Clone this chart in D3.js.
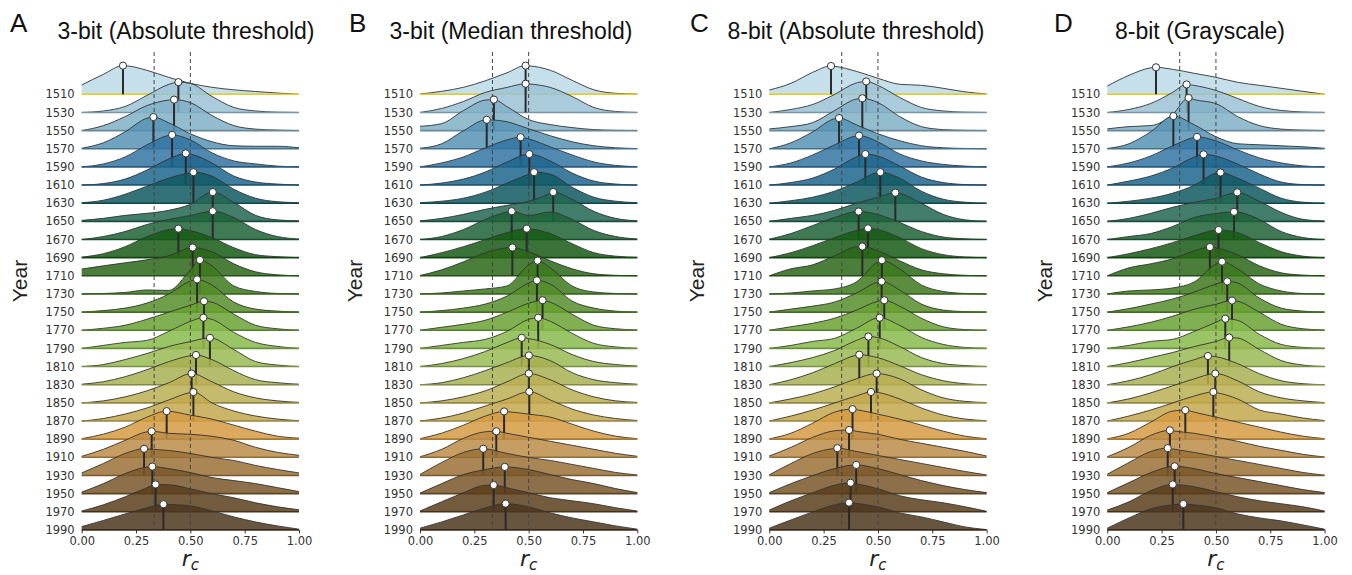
<!DOCTYPE html>
<html>
<head>
<meta charset="utf-8">
<script src="https://cdn.jsdelivr.net/npm/d3@7"></script>
<style>
  body { margin: 0; background: #fff; }
  .tick text { font-family: "DejaVu Sans", sans-serif; font-size: 11.5px; fill: #333; }
  .tick line { stroke: #333; }
</style>
</head>
<body>
<svg id="chart" width="1352" height="575"></svg>
<script>
(function () {
  'use strict';

  // ── Data ───────────────────────────────────────────────────────────────────
  const years = [1510, 1530, 1550, 1570, 1590, 1610, 1630, 1650, 1670, 1690, 1710, 1730, 1750,
                 1770, 1790, 1810, 1830, 1850, 1870, 1890, 1910, 1930, 1950, 1970, 1990];
  const grid = [0, 0.1, 0.2, 0.3, 0.4, 0.5, 0.6, 0.7, 0.8, 0.9, 1.0];
  const xTicks = [0, 0.25, 0.5, 0.75, 1.0];
  const refLines = [1 / 3, 0.5];

  const titles = ['3-bit (Absolute threshold)', '3-bit (Median threshold)',
                  '8-bit (Absolute threshold)', '8-bit (Grayscale)'];
  const letters = ['A', 'B', 'C', 'D'];

  // peak (mode) position and density for each year
  const modeA = [0.19, 0.445, 0.425, 0.33, 0.416, 0.479, 0.514, 0.603, 0.603, 0.445, 0.511, 0.544, 0.531,
                 0.563, 0.56, 0.59, 0.526, 0.506, 0.514, 0.391, 0.322, 0.287, 0.325, 0.34, 0.376];
  const peakA = [2.87, 3.03, 3.1, 3.17, 3.2, 3.17, 3.1, 2.93, 2.83, 2.9, 2.83, 3.4, 3.27,
                 2.9, 3.07, 2.87, 2.97, 2.93, 2.9, 2.8, 2.6, 2.67, 2.7, 2.73, 2.57];
  const densA = [
    [0.93, 2.0, 2.8, 2.4, 1.7, 1.1, 0.7, 0.45, 0.28, 0.13, 0],
    [0, 0.15, 0.6, 1.7, 2.8, 2.9, 1.6, 0.5, 0.15, 0.03, 0],
    [0, 0.5, 1.4, 2.5, 3.05, 2.8, 1.5, 0.5, 0.15, 0.05, 0],
    [0.05, 0.6, 1.7, 3.05, 2.6, 1.5, 0.7, 0.3, 0.25, 0.25, 0.1],
    [0, 0.3, 1.0, 2.2, 3.15, 2.7, 1.4, 0.6, 0.3, 0.08, 0],
    [0, 0.15, 0.6, 1.5, 2.6, 3.1, 2.2, 0.9, 0.3, 0.1, 0],
    [0.05, 0.3, 0.9, 1.7, 2.5, 3.05, 2.7, 1.4, 0.5, 0.15, 0.05],
    [0.1, 0.3, 0.6, 0.8, 1.1, 1.7, 2.9, 1.9, 0.6, 0.15, 0.05],
    [0, 0.3, 0.8, 1.5, 2.0, 2.4, 2.8, 2.2, 1.0, 0.3, 0.05],
    [0.05, 0.4, 1.1, 2.1, 2.8, 2.7, 2.0, 1.0, 0.3, 0.1, 0],
    [0.67, 1.0, 1.3, 1.6, 2.0, 2.7, 2.4, 1.2, 0.4, 0.1, 0],
    [0, 0.05, 0.15, 0.4, 0.35, 2.4, 2.8, 0.8, 0.25, 0.05, 0],
    [0, 0.15, 0.4, 0.9, 1.8, 3.1, 2.7, 1.0, 0.3, 0.1, 0],
    [0, 0.2, 0.5, 1.1, 1.8, 2.5, 2.8, 1.6, 0.5, 0.15, 0],
    [0, 0.3, 0.6, 0.8, 1.7, 2.7, 2.9, 1.6, 0.6, 0.2, 0],
    [0, 0.2, 0.7, 1.3, 2.0, 2.5, 2.8, 1.7, 0.5, 0.15, 0],
    [0.05, 0.3, 0.8, 1.5, 2.3, 2.9, 2.5, 1.4, 0.5, 0.2, 0.05],
    [0, 0.2, 0.6, 1.2, 2.0, 2.9, 2.1, 1.1, 0.5, 0.2, 0.05],
    [0, 0.25, 0.7, 1.3, 2.1, 2.85, 1.8, 1.0, 0.5, 0.2, 0.03],
    [0.05, 0.5, 1.2, 2.2, 2.75, 2.4, 2.0, 1.4, 0.8, 0.3, 0.1],
    [0.1, 0.8, 1.7, 2.55, 2.4, 2.3, 2.1, 1.7, 1.0, 0.5, 0.2],
    [0.25, 1.2, 2.2, 2.65, 2.5, 2.2, 1.8, 1.5, 1.0, 0.6, 0.25],
    [0.15, 1.0, 2.0, 2.65, 2.5, 2.1, 1.6, 1.3, 1.0, 0.6, 0.2],
    [0.07, 0.7, 1.5, 2.4, 2.7, 2.3, 1.8, 1.4, 0.9, 0.5, 0.2],
    [0.33, 0.95, 1.6, 2.2, 2.55, 2.4, 1.9, 1.3, 0.8, 0.4, 0.07]
  ];

  const modeB = [0.486, 0.486, 0.34, 0.307, 0.463, 0.503, 0.525, 0.613, 0.422, 0.491, 0.425, 0.541, 0.538,
                 0.564, 0.544, 0.468, 0.501, 0.501, 0.503, 0.387, 0.351, 0.291, 0.39, 0.339, 0.394];
  const peakB = [2.87, 2.87, 3.1, 2.9, 2.97, 3.1, 3.1, 2.93, 2.83, 2.9, 2.83, 3.33, 3.17,
                 3.0, 3.07, 2.87, 2.93, 2.93, 2.93, 2.77, 2.6, 2.67, 2.67, 2.67, 2.63];
  const densB = [
    [0.03, 0.3, 0.7, 1.35, 2.15, 2.85, 2.4, 1.4, 0.45, 0.1, 0.02],
    [0, 0.4, 1.1, 2.0, 2.5, 2.85, 2.5, 1.6, 0.5, 0.1, 0],
    [0.43, 0.7, 2.0, 3.05, 2.4, 1.1, 0.6, 0.3, 0.1, 0.03, 0],
    [0.05, 0.5, 1.8, 2.85, 2.7, 2.0, 1.3, 0.7, 0.3, 0.1, 0.02],
    [0, 0.4, 1.0, 1.9, 2.7, 2.8, 2.0, 1.2, 0.5, 0.15, 0.03],
    [0, 0.2, 0.6, 1.3, 2.3, 3.1, 2.4, 1.2, 0.4, 0.1, 0],
    [0.05, 0.2, 0.5, 1.1, 2.0, 2.9, 2.9, 1.6, 0.6, 0.2, 0.05],
    [0.05, 0.3, 0.7, 1.2, 1.6, 2.0, 2.8, 2.2, 1.0, 0.3, 0.05],
    [0, 0.3, 1.0, 2.0, 2.75, 2.4, 2.75, 2.0, 0.9, 0.3, 0.05],
    [0, 0.5, 1.1, 1.8, 2.5, 2.85, 2.4, 1.4, 0.5, 0.15, 0.03],
    [0.03, 0.6, 1.4, 2.3, 2.8, 2.4, 1.5, 0.7, 0.2, 0.05, 0],
    [0, 0.1, 0.3, 0.5, 0.8, 2.9, 2.6, 0.8, 0.2, 0.05, 0],
    [0, 0.15, 0.4, 0.8, 1.6, 2.9, 2.8, 1.1, 0.4, 0.1, 0],
    [0, 0.3, 0.6, 1.0, 1.8, 2.7, 2.8, 1.6, 0.5, 0.15, 0.03],
    [0, 0.3, 0.6, 0.9, 1.7, 2.9, 2.7, 1.5, 0.5, 0.15, 0],
    [0, 0.3, 0.8, 1.5, 2.4, 2.8, 2.2, 1.2, 0.5, 0.2, 0.05],
    [0, 0.2, 0.7, 1.4, 2.2, 2.9, 2.4, 1.2, 0.5, 0.2, 0.05],
    [0, 0.2, 0.6, 1.2, 2.1, 2.9, 2.3, 1.3, 0.6, 0.2, 0.05],
    [0, 0.3, 0.8, 1.5, 2.2, 2.9, 2.1, 1.2, 0.6, 0.25, 0.05],
    [0.05, 0.6, 1.4, 2.3, 2.75, 2.5, 2.2, 1.5, 0.8, 0.3, 0.05],
    [0.05, 0.8, 1.9, 2.55, 2.4, 2.0, 1.6, 1.2, 0.8, 0.4, 0.1],
    [0.1, 1.3, 2.3, 2.65, 2.2, 1.8, 1.5, 1.1, 0.7, 0.3, 0.05],
    [0.05, 1.0, 1.9, 2.4, 2.65, 2.4, 1.9, 1.4, 1.0, 0.5, 0.1],
    [0.07, 1.0, 1.9, 2.65, 2.4, 1.9, 1.4, 1.1, 0.8, 0.4, 0.07],
    [0.17, 0.8, 1.5, 2.2, 2.6, 2.3, 1.7, 1.2, 0.8, 0.4, 0.07]
  ];

  const modeC = [0.284, 0.446, 0.428, 0.321, 0.413, 0.442, 0.511, 0.58, 0.411, 0.454, 0.428, 0.518, 0.517,
                 0.529, 0.508, 0.456, 0.414, 0.494, 0.468, 0.383, 0.367, 0.313, 0.4, 0.374, 0.367];
  const peakC = [2.83, 3.1, 3.23, 3.07, 3.13, 3.1, 3.1, 2.87, 2.8, 2.93, 2.93, 3.37, 3.07,
                 3.0, 3.07, 3.0, 3.0, 2.93, 2.9, 3.0, 2.73, 2.73, 2.87, 2.9, 2.73];
  const densC = [
    [0.43, 1.1, 2.2, 2.8, 2.3, 1.6, 1.0, 0.9, 0.6, 0.25, 0.03],
    [0, 0.3, 0.8, 1.8, 2.95, 2.7, 1.5, 0.5, 0.15, 0.03, 0],
    [0.17, 0.4, 0.8, 2.0, 3.15, 2.8, 1.4, 0.4, 0.1, 0.03, 0],
    [0, 0.6, 1.7, 3.0, 2.4, 1.5, 0.8, 0.3, 0.1, 0.03, 0],
    [0, 0.4, 1.2, 2.2, 3.1, 2.5, 1.3, 0.6, 0.25, 0.08, 0],
    [0, 0.25, 0.7, 1.6, 2.8, 2.9, 1.9, 0.8, 0.25, 0.05, 0],
    [0, 0.25, 0.6, 1.2, 2.1, 3.05, 2.5, 1.2, 0.4, 0.1, 0],
    [0, 0.3, 0.6, 1.1, 1.8, 2.4, 2.8, 1.8, 0.7, 0.15, 0],
    [0.03, 0.6, 1.4, 2.2, 2.75, 2.5, 1.7, 0.8, 0.25, 0.07, 0],
    [0, 0.5, 1.2, 2.0, 2.7, 2.8, 2.0, 0.9, 0.3, 0.07, 0],
    [0, 0.7, 1.1, 2.0, 2.9, 2.5, 1.5, 0.6, 0.2, 0.05, 0],
    [0, 0.1, 0.3, 0.5, 1.2, 3.2, 2.5, 0.9, 0.25, 0.05, 0],
    [0, 0.3, 0.6, 1.0, 1.9, 3.0, 2.2, 0.8, 0.2, 0.05, 0],
    [0, 0.35, 0.7, 1.2, 2.0, 2.9, 2.4, 1.2, 0.35, 0.07, 0],
    [0, 0.3, 0.7, 1.0, 2.0, 3.05, 2.3, 1.1, 0.4, 0.1, 0],
    [0, 0.4, 0.9, 1.6, 2.6, 2.9, 2.0, 0.9, 0.3, 0.1, 0],
    [0, 0.5, 1.2, 2.1, 2.95, 2.7, 1.9, 1.0, 0.4, 0.1, 0],
    [0, 0.4, 0.9, 1.6, 2.4, 2.9, 2.4, 1.3, 0.5, 0.15, 0.03],
    [0, 0.5, 1.1, 1.8, 2.5, 2.85, 2.2, 1.3, 0.6, 0.2, 0.03],
    [0.03, 0.6, 1.6, 2.7, 2.95, 2.5, 2.0, 1.4, 0.8, 0.3, 0.05],
    [0.13, 1.0, 2.0, 2.65, 2.6, 2.3, 1.8, 1.4, 1.0, 0.6, 0.13],
    [0.07, 1.2, 2.2, 2.7, 2.4, 2.0, 1.6, 1.2, 0.8, 0.4, 0.05],
    [0.1, 1.0, 1.8, 2.5, 2.85, 2.5, 1.9, 1.3, 0.8, 0.4, 0.1],
    [0.17, 1.1, 1.9, 2.65, 2.8, 2.3, 1.6, 1.2, 0.9, 0.5, 0.05],
    [0.17, 1.0, 1.8, 2.5, 2.65, 2.3, 1.7, 1.3, 0.8, 0.3, 0.03]
  ];

  const modeD = [0.224, 0.365, 0.374, 0.304, 0.413, 0.443, 0.521, 0.598, 0.583, 0.512, 0.472, 0.528, 0.552,
                 0.574, 0.543, 0.561, 0.463, 0.497, 0.488, 0.359, 0.288, 0.278, 0.31, 0.301, 0.35];
  const peakD = [2.7, 2.8, 3.27, 3.27, 3.0, 3.07, 3.07, 2.9, 2.77, 2.77, 2.87, 3.23, 3.07,
                 2.97, 2.97, 2.9, 2.87, 2.93, 2.9, 2.9, 2.7, 2.73, 2.73, 2.73, 2.6];
  const densD = [
    [0.83, 1.9, 2.65, 2.5, 2.1, 1.7, 1.2, 0.9, 0.6, 0.3, 0],
    [0, 0.3, 0.9, 2.0, 2.7, 2.2, 1.4, 0.6, 0.2, 0.05, 0],
    [0.17, 0.4, 0.5, 1.6, 3.1, 2.7, 1.4, 0.5, 0.15, 0.05, 0],
    [0.03, 0.5, 1.7, 3.2, 2.4, 1.2, 0.5, 0.4, 0.3, 0.2, 0.05],
    [0, 0.4, 1.1, 2.1, 2.95, 2.6, 1.7, 0.9, 0.4, 0.1, 0],
    [0, 0.4, 0.9, 1.7, 2.8, 2.9, 2.1, 1.1, 0.3, 0.05, 0],
    [0, 0.2, 0.5, 1.0, 1.8, 3.0, 2.5, 1.5, 0.5, 0.1, 0],
    [0, 0.3, 0.8, 1.4, 1.9, 2.3, 2.9, 2.0, 0.9, 0.2, 0.03],
    [0, 0.3, 0.6, 1.3, 2.2, 2.6, 2.75, 2.0, 0.8, 0.2, 0],
    [0, 0.4, 0.9, 1.5, 2.2, 2.75, 2.5, 1.5, 0.6, 0.15, 0],
    [0, 0.8, 1.2, 1.7, 2.5, 2.8, 2.1, 1.0, 0.3, 0.07, 0],
    [0, 0.3, 0.4, 0.6, 1.2, 3.0, 2.5, 1.0, 0.3, 0.05, 0],
    [0, 0.35, 0.8, 1.3, 2.0, 2.8, 2.9, 1.4, 0.4, 0.1, 0],
    [0, 0.35, 0.8, 1.4, 2.1, 2.6, 2.9, 1.8, 0.6, 0.15, 0.02],
    [0, 0.3, 0.7, 0.9, 1.7, 2.6, 2.8, 1.4, 0.4, 0.1, 0],
    [0, 0.4, 0.9, 1.4, 2.0, 2.5, 2.85, 1.7, 0.6, 0.15, 0],
    [0, 0.4, 1.0, 1.8, 2.5, 2.8, 2.1, 1.1, 0.4, 0.1, 0],
    [0, 0.4, 1.0, 1.7, 2.4, 2.9, 2.2, 1.1, 0.5, 0.2, 0.03],
    [0, 0.5, 1.1, 1.8, 2.5, 2.85, 2.2, 1.1, 0.7, 0.3, 0.05],
    [0.03, 0.6, 1.7, 2.8, 2.7, 2.2, 1.7, 1.2, 0.7, 0.3, 0.05],
    [0.05, 1.0, 2.2, 2.65, 2.4, 2.0, 1.6, 1.1, 0.7, 0.3, 0.03],
    [0.13, 1.3, 2.4, 2.65, 2.3, 1.9, 1.5, 1.1, 0.7, 0.3, 0.03],
    [0.1, 1.1, 2.1, 2.7, 2.5, 2.0, 1.6, 1.2, 0.8, 0.4, 0.1],
    [0.17, 1.0, 2.1, 2.7, 2.5, 2.0, 1.5, 1.1, 0.8, 0.5, 0.07],
    [0.17, 1.2, 2.1, 2.5, 2.5, 2.2, 1.6, 1.2, 0.9, 0.5, 0.07]
  ];

  // ── Style ─────────────────────────────────────────────────────────────────
  // colours as they look over white; converted below for the fill alpha
  const rowColors = ['#c5e0ea', '#a9cbdb', '#94bccf', '#6fa3bf', '#5289b0', '#3f7d9e', '#357279',
                     '#437d6c', '#3f7a55', '#3a7337', '#4a7e3b', '#5a8e3e', '#6f9f4c', '#80b052',
                     '#9ac566', '#a8c46e', '#b5bc6c', '#c5bb6c', '#cdb567', '#dcaa5e', '#c69d62',
                     '#aa8655', '#8d7049', '#735b3e', '#675540'];
  const ALPHA = 0.85;
  const FONT = '"Liberation Sans", Arial, Helvetica, sans-serif';

  const W = 1352, H = 575;
  const panelLeft = [81.7, 420, 769.3, 1107.3];
  const panelW = 217.3;
  const titleX = [186, 511, 856, 1200];
  const letterX = [10, 349, 690, 1054];
  const yearLabelX = [20, 355, 697, 1044.5];

  const panels = [
    { mode: modeA, peak: peakA, dens: densA },
    { mode: modeB, peak: peakB, dens: densB },
    { mode: modeC, peak: peakC, dens: densC },
    { mode: modeD, peak: peakD, dens: densD }
  ];

  function solid(hex) {
    const c = d3.rgb(hex);
    const f = v => Math.max(0, Math.min(255, (v - 255 * (1 - ALPHA)) / ALPHA));
    return d3.rgb(f(c.r), f(c.g), f(c.b)).formatHex();
  }

  const svg = d3.select('#chart');
  svg.append('rect').attr('width', W).attr('height', H).attr('fill', '#fff');

  const yRow = d3.scalePoint().domain(years).range([94.3, 529.9]);
  const hScale = d3.scaleLinear().domain([0, 1]).range([0, 10]);

  // ── One ridgeline panel ───────────────────────────────────────────────────
  function drawPanel(p, pi) {
    const x = d3.scaleLinear().domain([0, 1]).range([panelLeft[pi], panelLeft[pi] + panelW]);
    const g = svg.append('g');

    years.forEach((yr, i) => {
      const base = yRow(yr);
      const pts = grid.map((gx, k) => [gx, p.dens[i][k]])
        .filter(d => Math.abs(d[0] - p.mode[i]) > 0.012);
      pts.push([p.mode[i], p.peak[i]]);
      pts.sort((a, b) => a[0] - b[0]);

      const area = d3.area()
        .x(d => x(d[0])).y0(base).y1(d => base - hScale(d[1]))
        .curve(d3.curveMonotoneX);
      const line = d3.line()
        .x(d => x(d[0])).y(d => base - hScale(d[1]))
        .curve(d3.curveMonotoneX);

      const fill = solid(rowColors[i]);
      const row = g.append('g');
      row.append('path').attr('d', area(pts))
        .attr('fill', fill).attr('fill-opacity', ALPHA);
      row.append('path').attr('d', line(pts))
        .attr('fill', 'none').attr('stroke', '#333').attr('stroke-width', 0.9);
      row.append('line')
        .attr('x1', x(0)).attr('x2', x(1)).attr('y1', base).attr('y2', base)
        .attr('stroke', i === 0 ? '#e3cc1e' : d3.rgb(fill).darker(0.7))
        .attr('stroke-width', 1.6);
      row.append('line')
        .attr('x1', x(p.mode[i])).attr('x2', x(p.mode[i]))
        .attr('y1', base).attr('y2', base - hScale(p.peak[i]))
        .attr('stroke', '#2a2a2a').attr('stroke-width', 2);
    });

    // reference lines at 1/3 and 1/2
    refLines.forEach(v => {
      g.append('line')
        .attr('x1', x(v)).attr('x2', x(v)).attr('y1', 52).attr('y2', yRow(years[years.length - 1]))
        .attr('stroke', '#444').attr('stroke-width', 1).attr('stroke-dasharray', '4,3');
    });

    // peak markers
    g.selectAll('circle.peak')
      .data(years)
      .enter().append('circle')
      .attr('class', 'peak')
      .attr('cx', (yr, i) => x(p.mode[i]))
      .attr('cy', (yr, i) => yRow(yr) - hScale(p.peak[i]))
      .attr('r', 3.6)
      .attr('fill', '#fff').attr('stroke', '#333').attr('stroke-width', 1);

    // year labels
    g.selectAll('text.year')
      .data(years)
      .enter().append('text')
      .attr('class', 'year')
      .attr('x', x(0) - 7).attr('y', yr => yRow(yr)).attr('dy', '0.36em')
      .attr('text-anchor', 'end')
      .style('font-family', '"DejaVu Sans", sans-serif').style('font-size', '11.5px')
      .attr('fill', '#333')
      .text(yr => yr);

    // x axis
    g.append('g')
      .attr('transform', `translate(0,${yRow(years[years.length - 1])})`)
      .call(d3.axisBottom(x).tickValues(xTicks).tickFormat(d3.format('.2f')).tickSize(3.5))
      .call(ax => ax.select('.domain').remove());

    // axis titles
    const xl = g.append('text')
      .attr('x', x(0.5)).attr('y', 566)
      .attr('text-anchor', 'middle')
      .style('font-family', '"DejaVu Sans", sans-serif').style('font-style', 'italic')
      .style('font-size', '22px').attr('fill', '#222');
    xl.append('tspan').text('r');
    xl.append('tspan').attr('dy', 4).style('font-size', '15px').text('c');

    g.append('text')
      .attr('transform', `translate(${yearLabelX[pi] + 7},281) rotate(-90)`)
      .attr('text-anchor', 'middle')
      .style('font-family', FONT).style('font-size', '21px').attr('fill', '#222')
      .text('Year');

    g.append('text')
      .attr('x', titleX[pi]).attr('y', 38.5)
      .attr('text-anchor', 'middle')
      .style('font-family', FONT).style('font-size', '23px').attr('fill', '#111')
      .text(titles[pi]);

    g.append('text')
      .attr('x', letterX[pi]).attr('y', 31.7)
      .style('font-family', FONT).style('font-size', '26px').attr('fill', '#111')
      .text(letters[pi]);
  }

  panels.forEach(drawPanel);
})();
</script>
</body>
</html>
